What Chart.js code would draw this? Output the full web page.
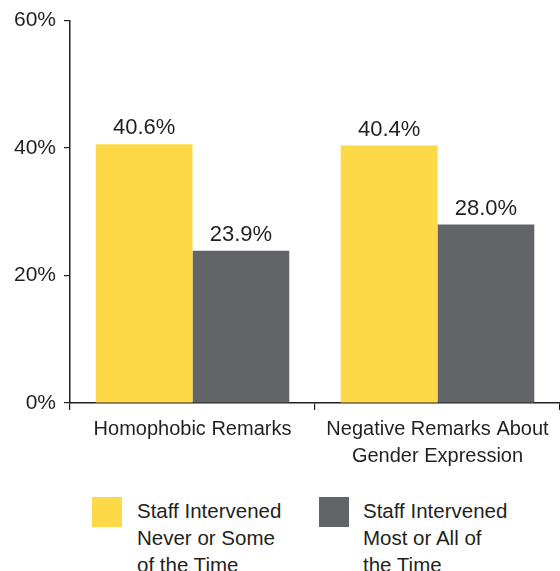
<!DOCTYPE html>
<html>
<head>
<meta charset="utf-8">
<script src="https://cdn.jsdelivr.net/npm/chart.js@4/dist/chart.umd.min.js"></script>
<style>
  body { margin: 0; background: #fff; overflow: hidden; }
  #wrap { position: relative; width: 560px; height: 571px; }
  .lg-box { position: absolute; width: 30px; height: 30px; top: 497px; }
  .lg-text { position: absolute; top: 497px; font: 20.5px "Liberation Sans", Arial, sans-serif; line-height: 27px; color: #231f20; }
</style>
</head>
<body>
<div id="wrap">
  <canvas id="chart" width="560" height="480"></canvas>
  <div class="lg-box" style="left:92px;background:#fdd947"></div>
  <div class="lg-text" style="left:137px">Staff Intervened<br>Never or Some<br>of the Time</div>
  <div class="lg-box" style="left:319px;background:#636467"></div>
  <div class="lg-text" style="left:363px">Staff Intervened<br>Most or All of<br>the Time</div>
</div>
<script>
  // data
  var categories = [["Homophobic Remarks"], ["Negative Remarks About", "Gender Expression"]];
  var seriesNames = ["Staff Intervened Never or Some of the Time", "Staff Intervened Most or All of the Time"];
  var neverSome = [40.6, 40.4];
  var mostAll = [23.9, 28.0];
  var yTicks = [0, 20, 40, 60];

  var ink = "#231f20";

  // draws the value above each bar
  var valueLabels = {
    id: "valueLabels",
    afterDatasetsDraw: function(chart) {
      var ctx = chart.ctx;
      ctx.save();
      ctx.font = "22px 'Liberation Sans', Arial, sans-serif";
      ctx.fillStyle = ink;
      ctx.textAlign = "center";
      ctx.textBaseline = "alphabetic";
      chart.data.datasets.forEach(function(ds, i) {
        chart.getDatasetMeta(i).data.forEach(function(bar, j) {
          ctx.fillText(ds.data[j].toFixed(1) + "%", bar.x, bar.y - 10);
        });
      });
      ctx.restore();
    }
  };

  new Chart("chart", {
    type: "bar",
    data: {
      labels: categories,
      datasets: [
        { label: seriesNames[0], data: neverSome, backgroundColor: "#fdd947" },
        { label: seriesNames[1], data: mostAll, backgroundColor: "#636467" }
      ]
    },
    options: {
      responsive: false,
      animation: false,
      layout: { padding: { top: 20, right: 0, left: 0, bottom: 0 } },
      datasets: { bar: { categoryPercentage: 0.79, barPercentage: 1.0 } },
      plugins: {
        legend: { display: false },
        tooltip: { enabled: false }
      },
      scales: {
        x: {
          grid: { offset: true, drawOnChartArea: false, tickLength: 7, color: ink, lineWidth: 1.2 },
          border: { color: ink, width: 1.5 },
          ticks: {
            color: ink,
            padding: 6,
            font: { family: "'Liberation Sans', Arial, sans-serif", size: 20, lineHeight: 1.35 }
          },
          afterFit: function(scale) { scale.height = 77; }
        },
        y: {
          min: 0,
          max: 60,
          afterBuildTicks: function(scale) {
            scale.ticks = yTicks.map(function(v) { return { value: v }; });
          },
          grid: { drawOnChartArea: false, tickLength: 6, color: ink, lineWidth: 1.2 },
          border: { color: ink, width: 1.5 },
          ticks: {
            color: ink,
            padding: 8,
            font: { family: "'Liberation Sans', Arial, sans-serif", size: 21 },
            callback: function(v) { return v + "%"; }
          },
          afterFit: function(scale) { scale.width = 70; }
        }
      }
    },
    plugins: [valueLabels]
  });
</script>
</body>
</html>
